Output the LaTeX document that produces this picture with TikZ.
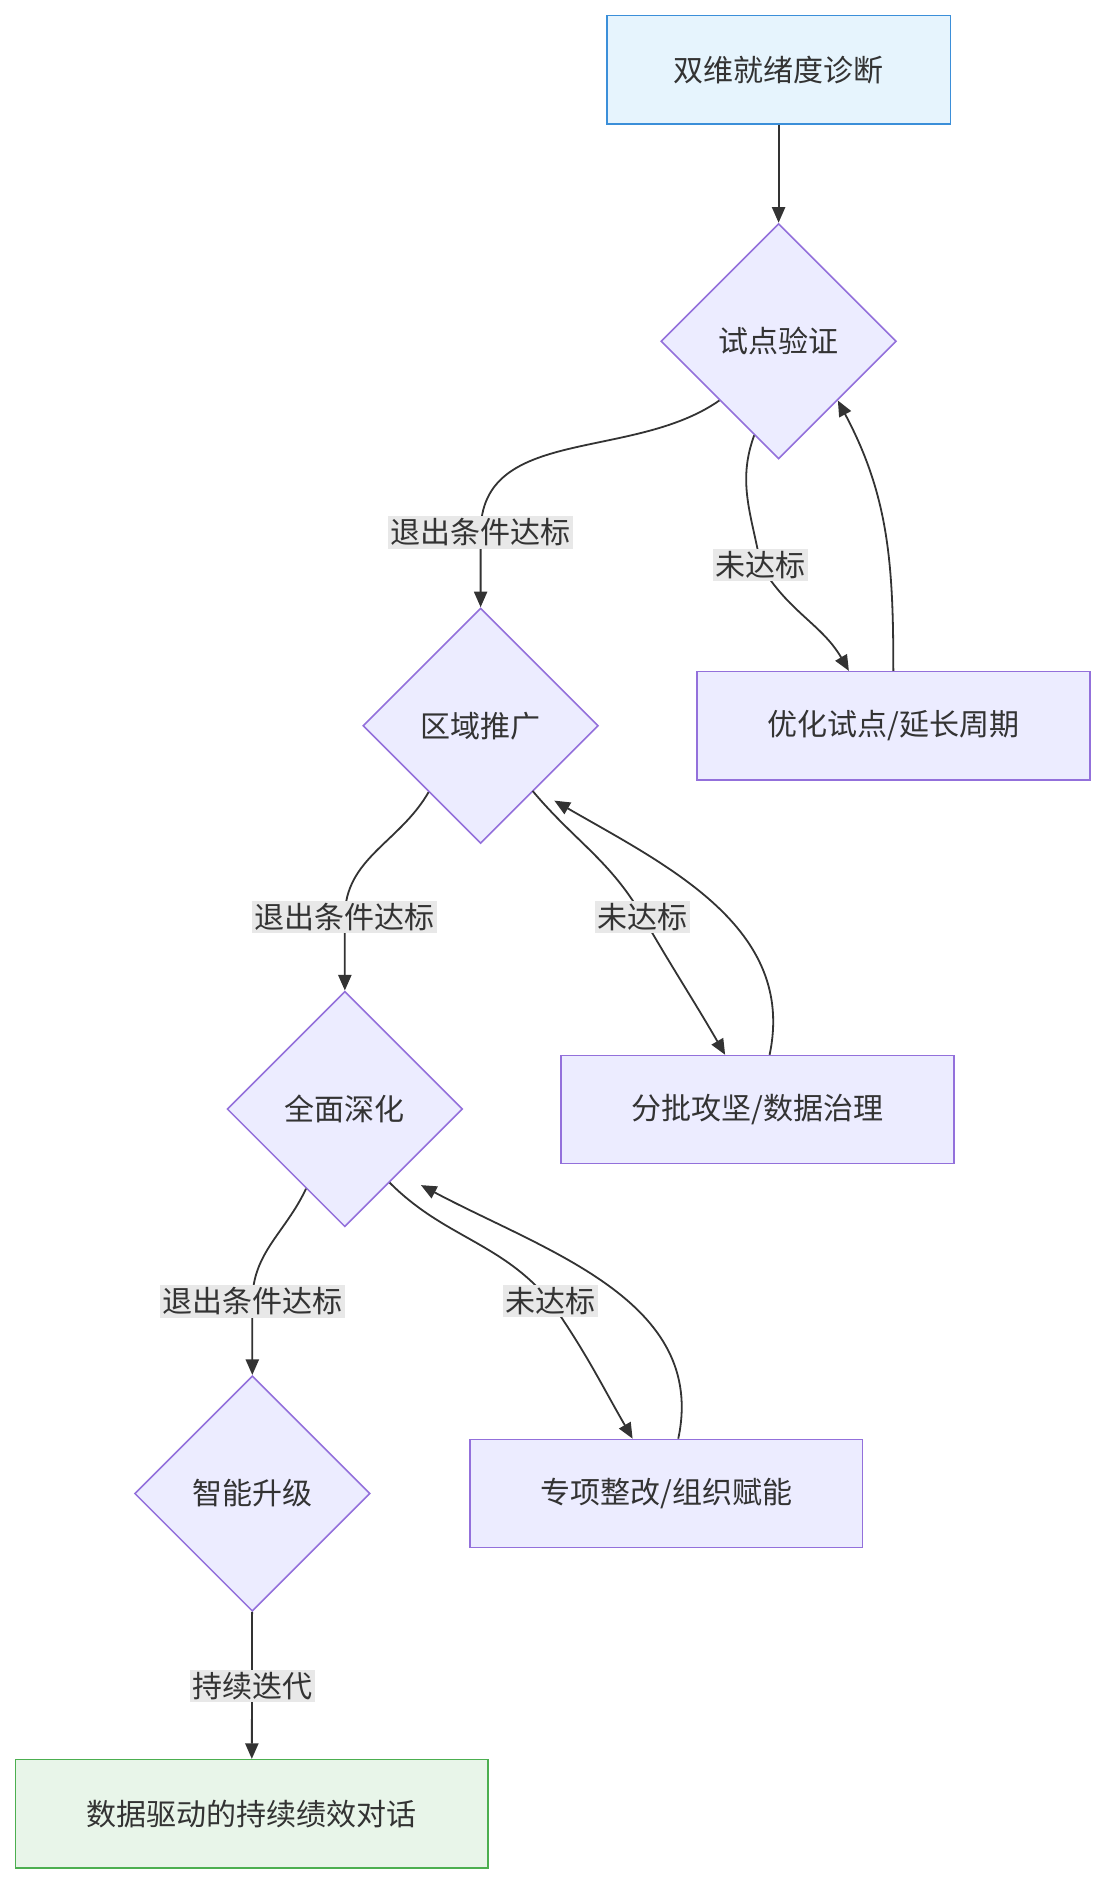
\documentclass[tikz,border=0pt]{standalone}
\usepackage{fontspec}
\setmainfont{Noto Sans CJK SC}
\usetikzlibrary{shapes.geometric,arrows.meta}
\definecolor{boxfill}{HTML}{ECECFF}
\definecolor{boxline}{HTML}{9370DB}
\definecolor{startfill}{HTML}{E6F4FD}
\definecolor{startline}{HTML}{3B8FD9}
\definecolor{endfill}{HTML}{E8F5E9}
\definecolor{endline}{HTML}{4CAF50}
\definecolor{lblfill}{HTML}{E8E8E8}
\definecolor{ink}{HTML}{333333}
\tikzset{
  stage/.style={draw=boxline, fill=boxfill, line width=1.3pt, minimum width=327pt, minimum height=90pt, inner sep=0pt, text=ink},
  gate/.style={diamond, draw=boxline, fill=boxfill, line width=1.3pt, minimum width=196pt, minimum height=196pt, inner sep=0pt, text=ink},
  lbl/.style={fill=lblfill, inner sep=2pt, text=ink},
  edge/.style={draw=ink, line width=1.5pt, -{Triangle[length=13pt,width=11pt]}}
}
\begin{document}
\begin{tikzpicture}[x=1pt,y=-1pt,font=\fontsize{25}{30}\selectfont]
\useasboundingbox (0,0) rectangle (920,1568);
% nodes
\node[stage, draw=startline, fill=startfill, minimum width=286pt] (diag) at (648,58) {双维就绪度诊断};
\node[gate] (pilot) at (648,284) {试点验证};
\node[gate] (region) at (400,604) {区域推广};
\node[gate] (deep) at (287,923) {全面深化};
\node[gate] (smart) at (210,1243) {智能升级};
\node[stage] (fix1) at (743.5,604) {优化试点/延长周期};
\node[stage] (fix2) at (630.5,923.5) {分批攻坚/数据治理};
\node[stage] (fix3) at (554.5,1243) {专项整改/组织赋能};
\node[stage, draw=endline, fill=endfill, minimum width=393pt] (talk) at (209.5,1509.5) {数据驱动的持续绩效对话};
% edges
\draw[edge] (diag) -- (pilot);
\draw[edge] (pilot.south west) to[out=215,in=90] (400,443) to[out=-90,in=90] (region.north);
\draw[edge] (pilot.south west) ++(29,29) to[out=250,in=100] (633,470) to[out=-60,in=120] ([xshift=-37pt]fix1.north);
\draw[edge] (fix1.north) to[out=90,in=-62] (pilot.south east);
\draw[edge] (region.south east) ++(-6,5) to[out=-50,in=120] (535,763) to[out=-60,in=120] ([xshift=-27pt]fix2.north);
\draw[edge] ([xshift=10pt]fix2.north) to[out=78,in=-30] ([xshift=12pt,yshift=-13pt]region.south east);
\draw[edge] (region.south west) ++(6,6) to[out=-120,in=90] (287,763) to[out=-90,in=90] (deep.north);
\draw[edge] (deep.south west) ++(17,17) to[out=-115,in=90] (210,1083) to[out=-90,in=90] (smart.north);
\draw[edge] (deep.south east) ++(-12,12) to[out=-45,in=130] (458,1083) to[out=-55,in=120] ([xshift=-28pt]fix3.north);
\draw[edge] ([xshift=10pt]fix3.north) to[out=78,in=-28] ([xshift=14pt,yshift=-14pt]deep.south east);
\draw[edge] (smart) -- (talk);
% labels
\node[lbl] (l1) at (400,443) {退出条件达标};
\node[lbl] (l2) at (633,470) {未达标};
\node[lbl] (l3) at (287,763) {退出条件达标};
\node[lbl] (l4) at (535,763) {未达标};
\node[lbl] (l5) at (210,1083) {退出条件达标};
\node[lbl] (l6) at (458,1083) {未达标};
\node[lbl] (l7) at (210,1403) {持续迭代};
\end{tikzpicture}
\end{document}
